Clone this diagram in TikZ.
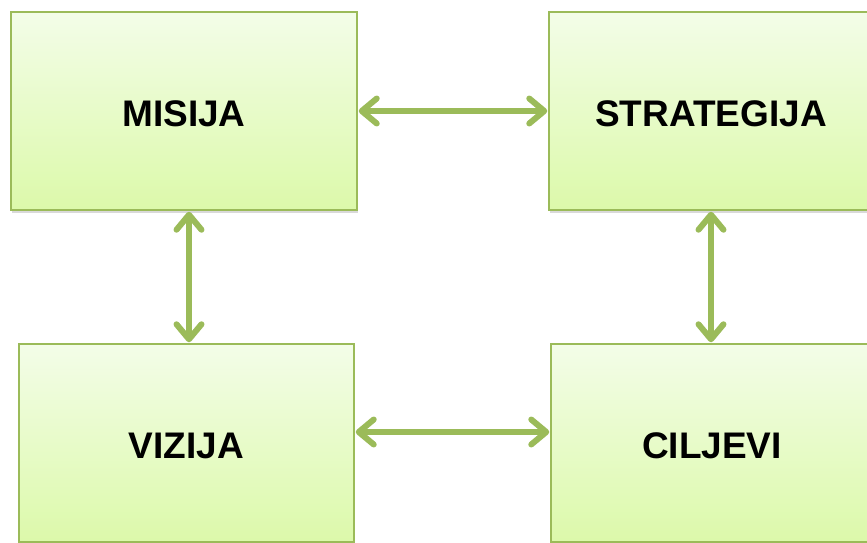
\documentclass[tikz,border=0pt]{standalone}
\usepackage{fontspec}
\setmainfont{Liberation Sans}
\usetikzlibrary{arrows.meta,shadows}
\definecolor{olive}{HTML}{9BBB59}
\definecolor{boxtop}{HTML}{F3FDE8}
\definecolor{boxbottom}{HTML}{DCF9AA}
\tikzset{
  block/.style={
    % The shape:
    rectangle,
    % The border:
    line width=1.5pt,
    draw=olive,
    % The filling:
    top color=boxtop,
    bottom color=boxbottom,
    drop shadow={shadow xshift=1pt,shadow yshift=-3pt,opacity=0.25,fill=black!60},
    % The text:
    font=\bfseries\fontsize{37}{40}\selectfont,
    text height=30pt,text depth=0pt,
  },
  link/.style={
    % The line:
    line width=6pt,
    draw=olive,
    % The tips:
    {Straight Barb[length=15pt,width=25pt,line cap=round,line join=round]}-{Straight Barb[length=15pt,width=25pt,line cap=round,line join=round]},
    shorten <=1pt,shorten >=1pt,
  }
}

\begin{document}
\begin{tikzpicture}[x=1pt,y=-1pt]
  \useasboundingbox (0,0) rectangle (867,543);

  \node (misija)     [block,minimum width=346pt,minimum height=198pt] at (184,111) {MISIJA};
  \node (strategija) [block,minimum width=324pt,minimum height=198pt] at (711,111) {STRATEGIJA};
  \node (vizija)     [block,minimum width=335pt,minimum height=198pt] at (186.5,443) {VIZIJA};
  \node (ciljevi)    [block,minimum width=322pt,minimum height=198pt] at (712,443) {CILJEVI};

  % link anchors
  \coordinate (vizija link) at ([yshift=11pt]vizija.east);
  \coordinate (misija link) at ([xshift=5pt]misija.south);

  % horizontal links
  \draw[link] (misija.east) -- (strategija.west |- misija.east);
  \draw[link] (vizija link) -- (ciljevi.west |- vizija link);
  % vertical links
  \draw[link] (misija link) -- (misija link |- vizija.north);
  \draw[link] (strategija.south) -- (strategija.south |- ciljevi.north);
\end{tikzpicture}
\end{document}
